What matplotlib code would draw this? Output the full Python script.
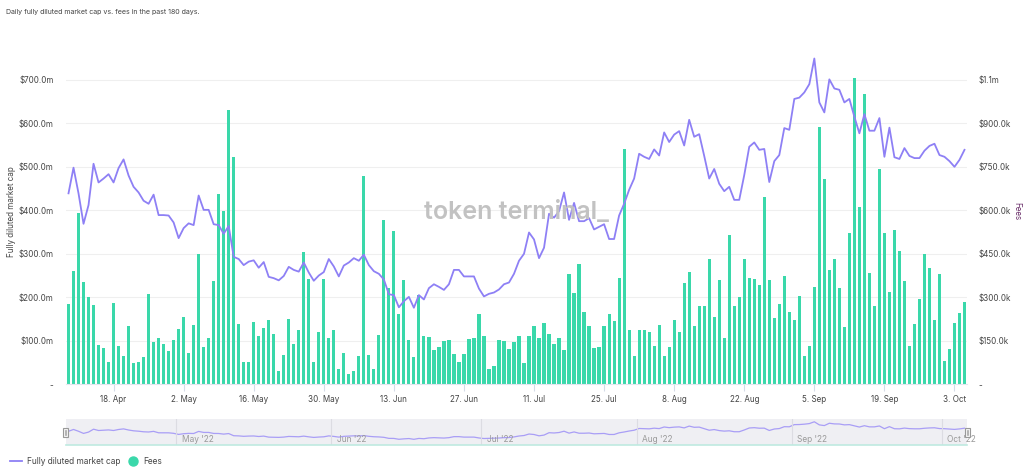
import matplotlib
matplotlib.use('Agg')
import matplotlib.pyplot as plt
from matplotlib.lines import Line2D
from matplotlib.patches import Rectangle
import pandas as pd

plt.rcParams['font.family'] = ['Inter', 'DejaVu Sans']

# ---------------- data ----------------
dates = pd.date_range('2022-04-09', periods=180, freq='D')

market_cap_m = [
    439, 498, 439, 369, 412, 507, 464, 473, 483, 464,
    497, 517, 480, 454, 441, 422, 415, 436, 389, 389,
    388, 372, 336, 359, 370, 366, 434, 401, 401, 368,
    366, 346, 364, 293, 288, 274, 282, 285, 268, 281,
    247, 244, 239, 249, 270, 263, 259, 280, 257, 238,
    250, 258, 288, 271, 248, 273, 280, 290, 284, 298,
    274, 260, 254, 241, 207, 205, 177, 191, 201, 176,
    205, 195, 221, 230, 224, 217, 230, 263, 263, 248,
    248, 248, 220, 202, 208, 211, 218, 230, 234, 254,
    284, 300, 349, 333, 290, 314, 392, 383, 398, 441,
    378, 417, 375, 375, 382, 356, 362, 368, 334, 334,
    388, 415, 447, 473, 530, 523, 518, 540, 526, 579,
    557, 574, 582, 549, 608, 569, 575, 525, 473, 495,
    461, 444, 454, 424, 424, 481, 546, 556, 539, 541,
    465, 513, 527, 589, 585, 656, 659, 671, 690, 749,
    648, 625, 701, 680, 677, 648, 656, 615, 577, 621,
    583, 583, 612, 523, 590, 522, 518, 543, 525, 520,
    520, 537, 548, 553, 527, 523, 513, 500, 516, 539,
]

fees_k = [
    277, 391, 591, 353, 302, 274, 136, 126, 76, 282,
    133, 99, 201, 74, 78, 94, 310, 146, 159, 138,
    115, 153, 191, 233, 108, 205, 449, 129, 161, 356,
    656, 598, 945, 784, 207, 78, 78, 215, 168, 193,
    222, 172, 46, 101, 225, 140, 186, 457, 363, 78,
    182, 363, 160, 188, 52, 108, 36, 46, 98, 718,
    100, 53, 170, 567, 332, 530, 244, 360, 152, 95,
    308, 167, 163, 118, 129, 149, 152, 106, 77, 106,
    156, 159, 241, 167, 52, 63, 154, 149, 120, 147,
    167, 72, 167, 201, 160, 210, 172, 138, 161, 118,
    380, 314, 414, 251, 201, 124, 129, 200, 241, 218,
    367, 811, 188, 98, 188, 188, 179, 132, 203, 99,
    129, 221, 182, 348, 386, 201, 269, 271, 432, 233,
    359, 160, 515, 270, 302, 432, 367, 362, 343, 645,
    359, 228, 277, 374, 249, 222, 303, 98, 132, 337,
    887, 707, 393, 432, 332, 198, 520, 1057, 611, 1001,
    384, 271, 741, 523, 318, 532, 460, 356, 132, 208,
    295, 448, 400, 223, 380, 80, 120, 211, 246, 284,
]

x_tick_dates = pd.to_datetime([
    '2022-04-18', '2022-05-02', '2022-05-16', '2022-05-30', '2022-06-13',
    '2022-06-27', '2022-07-11', '2022-07-25', '2022-08-08', '2022-08-22',
    '2022-09-05', '2022-09-19', '2022-10-03'])
x_tick_labels = ['18. Apr', '2. May', '16. May', '30. May', '13. Jun', '27. Jun',
                 '11. Jul', '25. Jul', '8. Aug', '22. Aug', '5. Sep', '19. Sep', '3. Oct']

left_ticks = [0, 100, 200, 300, 400, 500, 600, 700]
left_labels = ['-', '$100.0m', '$200.0m', '$300.0m', '$400.0m', '$500.0m', '$600.0m', '$700.0m']
right_ticks = [0, 150, 300, 450, 600, 750, 900, 1050]
right_labels = ['-', '$150.0k', '$300.0k', '$450.0k', '$600.0k', '$750.0k', '$900.0k', '$1.1m']

nav_months = pd.to_datetime(['2022-05-01', '2022-06-01', '2022-07-01',
                             '2022-08-01', '2022-09-01', '2022-10-01'])
nav_labels = ["May '22", "Jun '22", "Jul '22", "Aug '22", "Sep '22", "Oct '22"]

# ---------------- style ----------------
LINE = '#8e80f5'
BAR = '#3ad8aa'
TXT = '#444444'
W, H = 1024, 468

fig = plt.figure(figsize=(W / 100, H / 100), dpi=100)
fig.patch.set_facecolor('white')

left_px, right_px, top_px, bot_px = 66, 967, 45, 384.3
ax = fig.add_axes([left_px / W, 1 - bot_px / H, (right_px - left_px) / W, (bot_px - top_px) / H])
ax2 = ax.twinx()

one_day = pd.Timedelta(days=1)
xmin, xmax = dates[0] - 0.5 * one_day, dates[-1] + 0.5 * one_day

# bars (fees, right axis)
ax2.bar(dates, fees_k, width=0.64, color=BAR, zorder=2, linewidth=0)
ax2.set_ylim(0, 1170)
ax2.set_yticks(right_ticks)
ax2.set_yticklabels(right_labels)
ax2.grid(axis='y', color='#efefef', linewidth=0.8, zorder=0)
ax2.set_axisbelow(True)
ax2.tick_params(axis='y', length=0, pad=8, labelsize=5.8, labelcolor=TXT)

# line (market cap, left axis)
ax.plot(dates, market_cap_m, color=LINE, linewidth=1.3, zorder=3)
ax.set_ylim(0, 780)
ax.set_yticks(left_ticks)
ax.set_yticklabels(left_labels)
ax.tick_params(axis='y', length=0, pad=9, labelsize=5.8, labelcolor=TXT)
ax.set_xlim(xmin, xmax)
ax.set_xticks(x_tick_dates)
ax.set_xticklabels(x_tick_labels)
ax.tick_params(axis='x', length=5, color='#d5dbe8', width=0.8, pad=3,
               labelsize=5.8, labelcolor=TXT)
ax.set_zorder(ax2.get_zorder() + 1)
ax.patch.set_visible(False)

for a in (ax, ax2):
    for s in a.spines.values():
        s.set_visible(False)
ax.spines['bottom'].set_visible(True)
ax.spines['bottom'].set_color('#e3e6ee')
ax.spines['bottom'].set_linewidth(0.8)

# axis titles
fig.text(12 / W, 1 - 212 / H, 'Fully diluted market cap', rotation=90,
         ha='center', va='center', fontsize=5.8, color=TXT)
fig.text(1017 / W, 1 - 211 / H, 'Fees', rotation=270,
         ha='center', va='center', fontsize=5.8, color='#6a2f6a')

# title
fig.text(6 / W, 1 - 12 / H, 'Daily fully diluted market cap vs. fees in the past 180 days.',
         ha='left', va='center', fontsize=5.1, color=TXT)

# watermark
fig.text(516 / W, 1 - 212 / H, 'token terminal_', ha='center', va='center',
         fontsize=18, fontweight='semibold', color='#c2c2c2', zorder=1.5)

# ---------------- navigator ----------------
nav = fig.add_axes([left_px / W, 1 - 445 / H, (right_px - left_px) / W, 26 / H])
nav.set_facecolor('#efeff3')
nav.plot(dates, market_cap_m, color='#a99ef6', linewidth=0.9)
nav.set_xlim(xmin, xmax)
nav.set_ylim(-10, 840)
for m, lab in zip(nav_months, nav_labels):
    nav.axvline(m - 0.5 * one_day, color='#dcdce2', linewidth=0.8)
    nav.text(m + 0.6 * one_day, 0.2, lab, transform=nav.get_xaxis_transform(),
             ha='left', va='center', fontsize=6, color='#9a9a9a')
nav.set_xticks([])
nav.set_yticks([])
for s in nav.spines.values():
    s.set_visible(False)
nav.plot([0, 1], [0, 0], transform=nav.transAxes, color='#bfeae0',
         linewidth=1.2, clip_on=False)

for hx in (63, 965):
    fig.add_artist(Rectangle((hx / W, 1 - 437 / H), 5 / W, 9 / H, transform=fig.transFigure,
                             facecolor='#f4f4f4', edgecolor='#999999', linewidth=0.8))
    for dx in (1.8, 3.2):
        fig.add_artist(Line2D([(hx + dx) / W] * 2, [1 - 435 / H, 1 - 430 / H],
                              transform=fig.transFigure, color='#999999', linewidth=0.5))

# ---------------- legend ----------------
ly = 1 - 461 / H
fig.add_artist(Line2D([10 / W, 22 / W], [ly, ly], transform=fig.transFigure,
                      color=LINE, linewidth=1.3))
fig.text(27 / W, ly, 'Fully diluted market cap', ha='left', va='center',
         fontsize=6, color=TXT)
fig.add_artist(Line2D([133 / W], [ly], transform=fig.transFigure, marker='o',
                      markersize=6.5, color=BAR, linestyle='none'))
fig.text(143 / W, ly, 'Fees', ha='left', va='center', fontsize=6, color=TXT)

fig.savefig('out.png', dpi=100, facecolor='white')
